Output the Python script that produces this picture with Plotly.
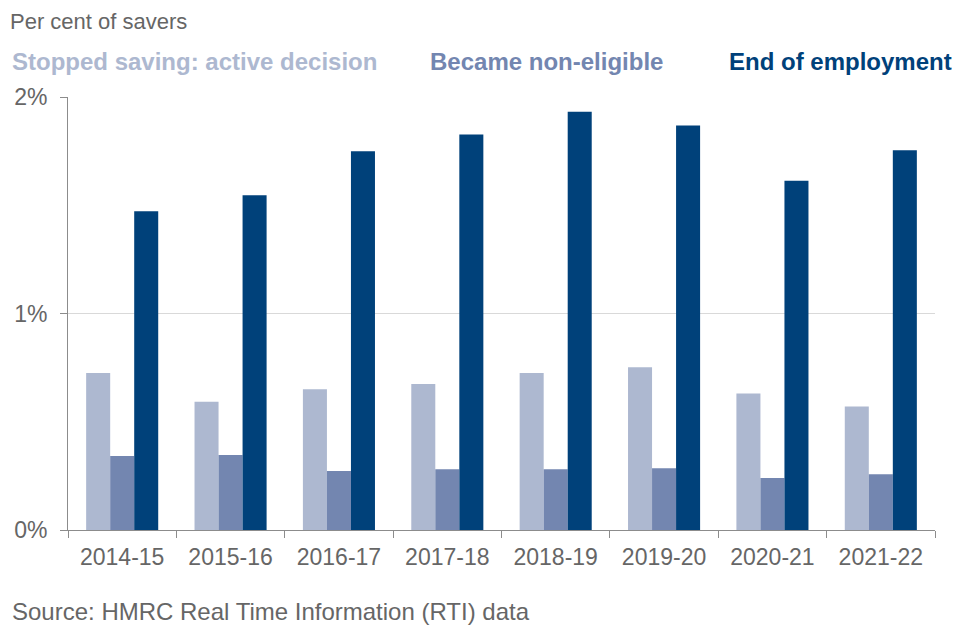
import plotly.graph_objects as go

years = ["2014-15", "2015-16", "2016-17", "2017-18", "2018-19", "2019-20", "2020-21", "2021-22"]
active_decision = [0.725, 0.592, 0.650, 0.674, 0.725, 0.752, 0.630, 0.571]
non_eligible = [0.342, 0.346, 0.273, 0.281, 0.281, 0.285, 0.240, 0.257]
end_employment = [1.472, 1.546, 1.750, 1.827, 1.932, 1.868, 1.613, 1.754]

series_names = ["Stopped saving: active decision", "Became non-eligible", "End of employment"]
colors = ["#adb8d0", "#7386b0", "#00417a"]
ytick_vals = [0, 1, 2]
ytick_text = ["0%", "1%", "2%"]

fig = go.Figure()
for name, vals, col in zip(series_names, [active_decision, non_eligible, end_employment], colors):
    fig.add_trace(go.Bar(x=years, y=vals, name=name, marker=dict(color=col, line=dict(width=0)),
                         showlegend=False))

font_family = "Liberation Sans, Arial, sans-serif"
grey = "#666666"
fig.update_layout(
    width=952, height=632,
    margin=dict(l=60, r=25, t=89, b=110),
    paper_bgcolor="white", plot_bgcolor="white",
    barmode="group", bargap=0.335, bargroupgap=0,
    font=dict(family=font_family, color=grey),
)
fig.update_yaxes(range=[0, 2], tickvals=ytick_vals, ticktext=ytick_text,
                 showgrid=True, gridcolor="#d9d9d9", gridwidth=1,
                 showline=True, linecolor="#8c8c8c", linewidth=1,
                 ticks="outside", ticklen=7, tickcolor="#8c8c8c", ticklabelstandoff=8,
                 tickfont=dict(size=23, color=grey), zeroline=False, automargin=False)
fig.update_xaxes(showline=True, linecolor="#8c8c8c", linewidth=1,
                 ticks="outside", ticklen=7, tickcolor="#8c8c8c", tickson="boundaries",
                 ticklabelstandoff=6,
                 tickfont=dict(size=23, color=grey), showgrid=False, automargin=False)

def px(x):
    return (x - 68) / 867

def py(y):
    return (530 - y) / 433

fig.add_annotation(text="Per cent of savers", xref="paper", yref="paper", x=px(9), y=py(21),
                   xanchor="left", yanchor="middle", showarrow=False, borderpad=0,
                   font=dict(size=22, color=grey, family=font_family))
legend_x = [10, 428, 727]
for name, col, lx in zip(series_names, colors, legend_x):
    fig.add_annotation(text="<b>" + name + "</b>", xref="paper", yref="paper",
                       x=px(lx), y=py(61),
                       xanchor="left", yanchor="middle", showarrow=False,
                       font=dict(size=24, color=col, family=font_family))
fig.add_annotation(text="Source: HMRC Real Time Information (RTI) data", xref="paper", yref="paper",
                   x=px(10), y=py(611), xanchor="left", yanchor="middle",
                   showarrow=False, font=dict(size=24, color=grey, family=font_family))

fig.write_html("out.html")
